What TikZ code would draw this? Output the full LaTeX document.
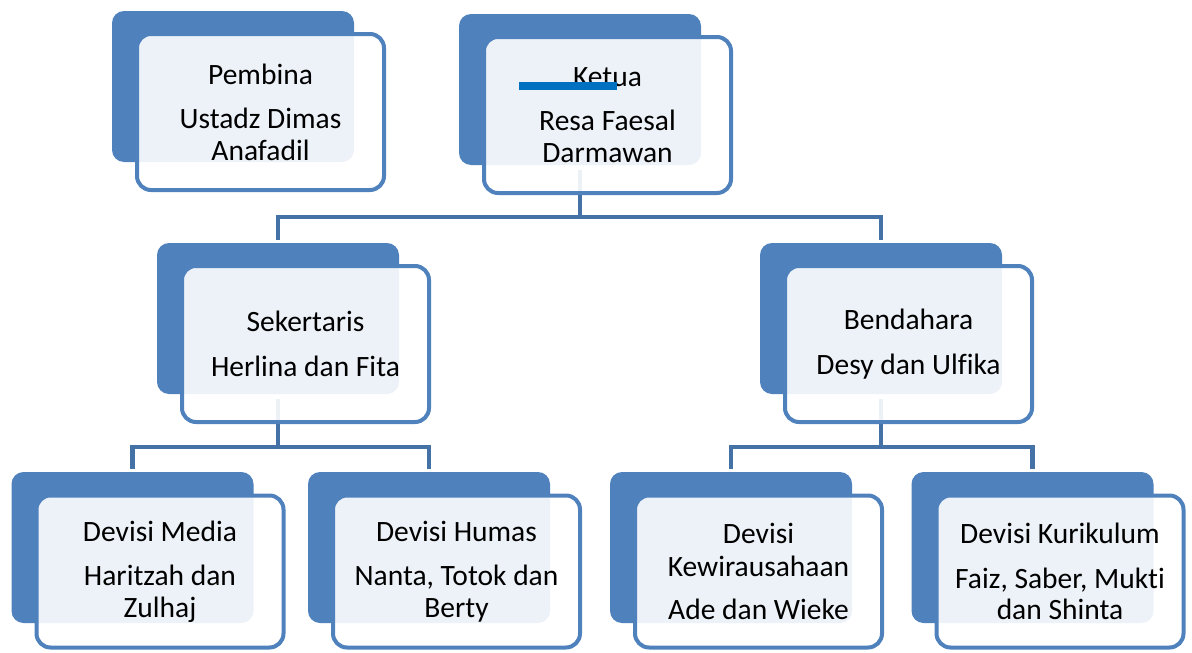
\documentclass[tikz,border=0pt]{standalone}
\usepackage{fontspec}
\setmainfont{Carlito}[Ligatures=NoCommon]
\usetikzlibrary{backgrounds}
\definecolor{boxblue}{HTML}{4F81BD}
\definecolor{linkblue}{HTML}{4471A6}
\definecolor{barblue}{HTML}{0070C0}
\begin{document}
\begin{tikzpicture}[x=1pt,y=-1pt,
	back/.style={fill=boxblue,rounded corners=12pt,minimum width=242pt,minimum height=151pt,inner sep=0pt},
	front/.style={draw=boxblue,line width=4pt,fill=white,fill opacity=0.9,text opacity=1,rounded corners=14pt,
		minimum width=247pt,minimum height=156pt,inner sep=0pt,align=center,font=\fontsize{29.5}{31.5}\selectfont},
	low/.style={minimum height=152pt},
	link/.style={draw=linkblue,line width=4.5pt,shorten <=5pt,shorten >=3pt}]
	\useasboundingbox (0,0) rectangle (1192,653);
	% back boxes
	\node[back] (pemb) at (233,86.5) {};
	\node[back] (ketua) at (580,89.5) {};
	\node[back] (sek) at (278,318.5) {};
	\node[back] (bend) at (881,318.5) {};
	\node[back] (media) at (132.5,547.5) {};
	\node[back] (humas) at (429,547.5) {};
	\node[back] (kewira) at (731,547.5) {};
	\node[back] (kurik) at (1032.5,547.5) {};
	% front boxes
	\node[front] (pembF) at ([shift={(27.5,25.5)}]pemb.center) {Pembina\\[13pt]Ustadz Dimas\\Anafadil};
	\node[front] (ketuaF) at ([shift={(27.5,25.5)}]ketua.center) {Ketua\\[13pt]Resa Faesal\\Darmawan};
	\node[front] (sekF) at ([shift={(27.5,25.5)}]sek.center) {Sekertaris\\[13pt]Herlina dan Fita};
	\node[front] (bendF) at ([shift={(27.5,25.5)}]bend.center) {Bendahara\\[13pt]Desy dan Ulfika};
	\node[front,low] (mediaF) at ([shift={(27.5,24)}]media.center) {Devisi Media\\[13pt]Haritzah dan\\Zulhaj};
	\node[front,low] (humasF) at ([shift={(27.5,24)}]humas.center) {Devisi Humas\\[13pt]Nanta, Totok dan\\Berty};
	\node[front,low] (kewiraF) at ([shift={(27.5,24)}]kewira.center) {Devisi\\[1.5pt]Kewirausahaan\\[12pt]Ade dan Wieke};
	\node[front,low] (kurikF) at ([shift={(27.5,24)}]kurik.center) {Devisi Kurikulum\\[13pt]Faiz, Saber, Mukti\\dan Shinta};
	\draw[barblue,line width=8pt] (519,86) -- (617,86);
	% connectors
	\begin{pgfonlayer}{background}
		\draw[link] (ketua.south) -- ++(0,52) -| (sek.north);
		\draw[link] (ketua.south) -- ++(0,52) -| (bend.north);
		\draw[link] (sek.south) -- ++(0,53) -| (media.north);
		\draw[link] (sek.south) -- ++(0,53) -| (humas.north);
		\draw[link] (bend.south) -- ++(0,53) -| (kewira.north);
		\draw[link] (bend.south) -- ++(0,53) -| (kurik.north);
	\end{pgfonlayer}
\end{tikzpicture}
\end{document}
